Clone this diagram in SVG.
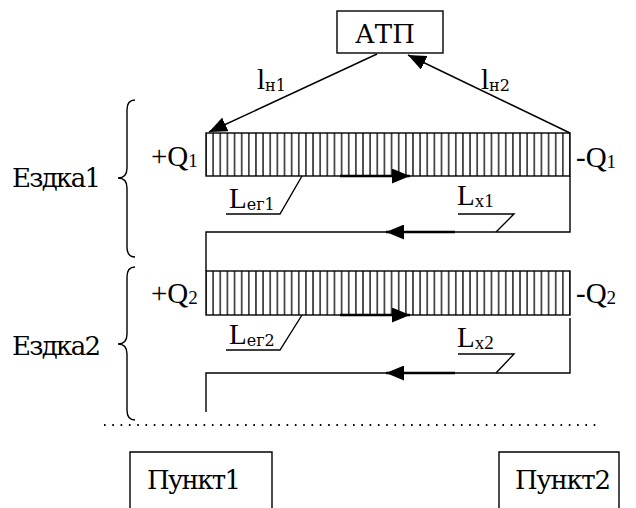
<svg xmlns="http://www.w3.org/2000/svg" width="636" height="508" viewBox="0 0 636 508">
  <style>
    .ln { fill: none; stroke: #000; stroke-width: 1.4; }
    .thick { fill: none; stroke: #000; stroke-width: 2.4; }
    .box { fill: #fff; stroke: #000; stroke-width: 1.4; }
    text { font-family: 'Liberation Serif', 'DejaVu Serif', serif; font-size: 29px; fill: #000; }
    .cyr { font-family: 'DejaVu Serif', 'Liberation Serif', serif; font-size: 26px; }
    .sub { font-size: 19px; }
    .csub { font-family: 'DejaVu Serif', serif; font-size: 16px; }
  </style>
  <defs>
    <marker id="head" markerUnits="userSpaceOnUse" markerWidth="18" markerHeight="15" refX="18" refY="7.5" orient="auto">
      <path d="M0,0 L18,7.5 L0,15 Z" fill="#000"/>
    </marker>
    <pattern id="hatch" patternUnits="userSpaceOnUse" x="202.43" y="0" width="7.137" height="20">
      <line x1="3.57" y1="0" x2="3.57" y2="20" stroke="#000" stroke-width="1.3"/>
    </pattern>
  </defs>

  <!-- depot -->
  <g id="atp">
    <rect class="box" x="337" y="11" width="106" height="42"/>
    <text class="cyr" x="385" y="43" text-anchor="middle" textLength="60">АТП</text>
  </g>

  <!-- loaded runs -->
  <g id="run1">
    <rect x="206" y="133" width="364" height="43" fill="url(#hatch)" stroke="#000" stroke-width="1.4"/>
    <text x="151" y="166">+Q<tspan class="sub" dy="1">1</tspan></text>
    <text x="576" y="167">-Q<tspan class="sub" dy="1">1</tspan></text>
  </g>
  <g id="run2">
    <rect x="206" y="271" width="364" height="44" fill="url(#hatch)" stroke="#000" stroke-width="1.4"/>
    <text x="151" y="303">+Q<tspan class="sub" dy="1">2</tspan></text>
    <text x="576" y="303">-Q<tspan class="sub" dy="1">2</tspan></text>
  </g>

  <!-- trip braces -->
  <g id="trip1">
    <path class="ln" d="M135,100 Q127,100 127,110 L127,168 Q127,178 118,178 Q127,178 127,188 L127,247 Q127,257 135,257"/>
    <text class="cyr" x="12" y="187" textLength="89">Ездка1</text>
  </g>
  <g id="trip2">
    <path class="ln" d="M135,267 Q127,267 127,277 L127,334 Q127,344 118,344 Q127,344 127,354 L127,410 Q127,420 135,420"/>
    <text class="cyr" x="12" y="355" textLength="89">Ездка2</text>
  </g>

  <!-- points -->
  <g id="punkt1">
    <path class="ln" d="M130,508 V452 H272 V508"/>
    <text class="cyr" x="147" y="489" textLength="94">Пункт1</text>
  </g>
  <g id="punkt2">
    <path class="ln" d="M499,508 V452 H619 V508"/>
    <text class="cyr" x="515" y="489" textLength="96">Пункт2</text>
  </g>

  <!-- connectors -->
  <g id="connectors">
    <line class="ln" x1="377" y1="54" x2="209" y2="132" marker-end="url(#head)"/>
    <line class="ln" x1="570" y1="133" x2="408" y2="55" marker-end="url(#head)"/>
    <line class="thick" x1="340" y1="176" x2="410" y2="176" marker-end="url(#head)"/>
    <path class="ln" d="M570,176 V232 H206 V271"/>
    <line class="thick" x1="455" y1="232" x2="386" y2="232" marker-end="url(#head)"/>
    <line class="thick" x1="340" y1="315" x2="410" y2="315" marker-end="url(#head)"/>
    <path class="ln" d="M570,318 V373 H206 V412"/>
    <line class="thick" x1="455" y1="373" x2="386" y2="373" marker-end="url(#head)"/>
    <line x1="104" y1="425" x2="600" y2="425" stroke="#000" stroke-width="2" stroke-dasharray="1.6 6.7"/>
  </g>

  <!-- distance labels -->
  <g id="labels">
    <text x="257" y="89">l<tspan class="csub" dy="2">н1</tspan></text>
    <text x="481" y="89">l<tspan class="csub" dy="2">н2</tspan></text>

    <text x="229" y="208">L<tspan class="csub" dy="2">ег1</tspan></text>
    <path class="ln" d="M226,214 H280 L302,176"/>
    <text x="457" y="205">L<tspan class="sub" dy="2">x1</tspan></text>
    <path class="ln" d="M458,214 H514 L496,232"/>

    <text x="229" y="344">L<tspan class="csub" dy="2">ег2</tspan></text>
    <path class="ln" d="M226,350 H280 L302,315"/>
    <text x="457" y="347">L<tspan class="sub" dy="2">x2</tspan></text>
    <path class="ln" d="M458,354 H514 L496,373"/>
  </g>
</svg>
